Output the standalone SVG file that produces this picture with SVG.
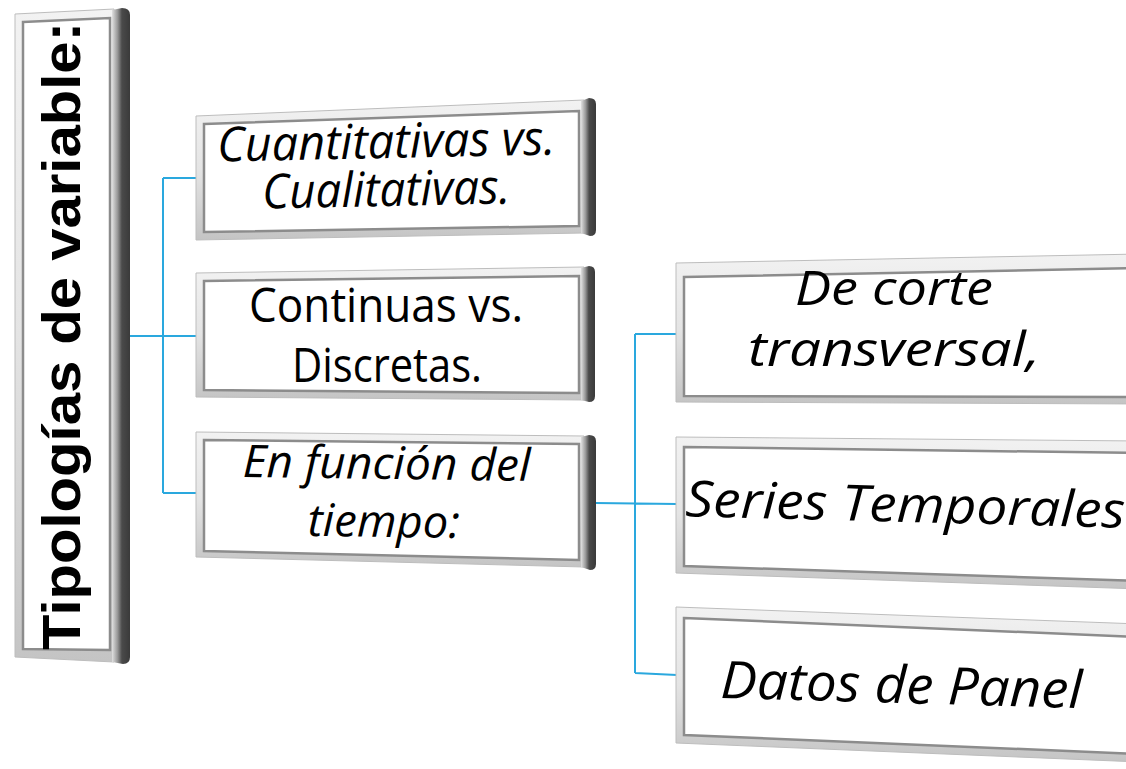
<svg xmlns="http://www.w3.org/2000/svg" width="1126" height="769" viewBox="0 0 1126 769">
<defs>
<linearGradient id="frameV" x1="0" y1="0" x2="0" y2="1">
<stop offset="0" stop-color="#f2f2f2"/>
<stop offset="0.5" stop-color="#e4e4e4"/>
<stop offset="1" stop-color="#c4c4c4"/>
</linearGradient>
<linearGradient id="bar" x1="0" y1="0" x2="1" y2="0">
<stop offset="0" stop-color="#e0e0e0"/>
<stop offset="0.3" stop-color="#9a9a9a"/>
<stop offset="0.55" stop-color="#4a4a4a"/>
<stop offset="1" stop-color="#3a3a3a"/>
</linearGradient>
</defs>
<style>
.outer{fill:url(#frameV);stroke:#bdbdbd;stroke-width:1}
.inner{fill:#ffffff;stroke:#8c8c8c;stroke-width:2.5}
.bar{fill:url(#bar)}
.lbl{font-family:"Open Sans","Noto Sans","Liberation Sans",sans-serif;fill:#000;text-anchor:middle;font-variant-ligatures:none}
.it{font-style:italic}
.title{font-family:"Liberation Sans",Arial,sans-serif;font-weight:bold;fill:#000;text-anchor:middle}
.conn{fill:none;stroke:#2aa8de;stroke-width:2}
</style>
<rect width="1126" height="769" fill="#ffffff"/>

<g id="connectors">
<path class="conn" d="M130,336 H196 M163,178 V493 M163,178 H196 M163,493 H196"/>
<path class="conn" d="M595,503 L677,504 M635,334 V673 M635,334 H677 M635,673 L677,675"/>
</g>

<g id="title">
<polygon class="outer" points="15,14 114,9 114,662 15,657"/>
<polygon class="inner" points="23,22 110,18 110,650 23,649"/>
<path class="bar" d="M112,10 L122,8 Q130,8 130,15 L130,657 Q130,664 123,664 L112,662 Z"/>
<text class="title" transform="translate(80,336) rotate(-90)" x="0" y="0" font-size="53" textLength="628" lengthAdjust="spacingAndGlyphs">Tipologías de variable:</text>
</g>

<g id="n-cuantitativas">
<polygon class="outer" points="196,116 584,100 584,233 196,240"/>
<polygon class="inner" points="204,124 579,111 579,226 204,232"/>
<path class="bar" d="M581,101 L589,98 Q596,98 596,104 L596,230 Q596,236 590,236 L581,233 Z"/>
<g transform="rotate(-1.2 387 180)">
<text class="lbl it" x="387" y="158" font-size="48" textLength="338" lengthAdjust="spacingAndGlyphs">Cuantitativas vs.</text>
<text class="lbl it" x="386" y="206" font-size="48" textLength="248" lengthAdjust="spacingAndGlyphs">Cualitativas.</text>
</g>
</g>

<g id="n-continuas">
<polygon class="outer" points="196,273 584,267 584,400 196,397"/>
<polygon class="inner" points="204,281 579,276 579,393 204,390"/>
<path class="bar" d="M581,268 L589,266 Q595,266 595,272 L595,396 Q595,402 589,402 L581,400 Z"/>
<text class="lbl" x="386" y="322" font-size="48" textLength="274" lengthAdjust="spacingAndGlyphs">Continuas vs.</text>
<text class="lbl" x="387" y="382" font-size="48" textLength="190" lengthAdjust="spacingAndGlyphs">Discretas.</text>
</g>

<g id="n-funcion">
<polygon class="outer" points="196,432 584,436 584,567 196,557"/>
<polygon class="inner" points="204,440 579,444 579,560 204,551"/>
<path class="bar" d="M581,437 L589,435 Q596,435 596,441 L596,564 Q596,570 590,570 L581,567 Z"/>
<g transform="rotate(0.8 386 505)">
<text class="lbl it" x="386" y="479" font-size="45" textLength="288" lengthAdjust="spacingAndGlyphs">En función del</text>
<text class="lbl it" x="384" y="537" font-size="45" textLength="152" lengthAdjust="spacingAndGlyphs">tiempo:</text>
</g>
</g>

<g id="n-corte">
<polygon class="outer" points="676,263 1140,254 1140,404 676,402"/>
<polygon class="inner" points="684,277 1140,268 1140,397 684,396"/>
<text class="lbl it" x="894" y="305" font-size="48" textLength="198" lengthAdjust="spacingAndGlyphs">De corte</text>
<text class="lbl it" x="894" y="366" font-size="48" textLength="292" lengthAdjust="spacingAndGlyphs">transversal,</text>
</g>

<g id="n-series">
<polygon class="outer" points="676,437 1140,441 1140,589 676,573"/>
<polygon class="inner" points="684,447 1140,453 1140,581 684,566"/>
<text class="lbl it" transform="rotate(1.5 905 520)" x="905" y="522" font-size="50" textLength="440" lengthAdjust="spacingAndGlyphs">Series Temporales</text>
</g>

<g id="n-panel">
<polygon class="outer" points="676,607 1140,624 1140,762 676,743"/>
<polygon class="inner" points="684,618 1140,637 1140,754 684,735"/>
<text class="lbl it" transform="rotate(1.6 901 700)" x="901" y="703" font-size="52" textLength="362" lengthAdjust="spacingAndGlyphs">Datos de Panel</text>
</g>
</svg>
